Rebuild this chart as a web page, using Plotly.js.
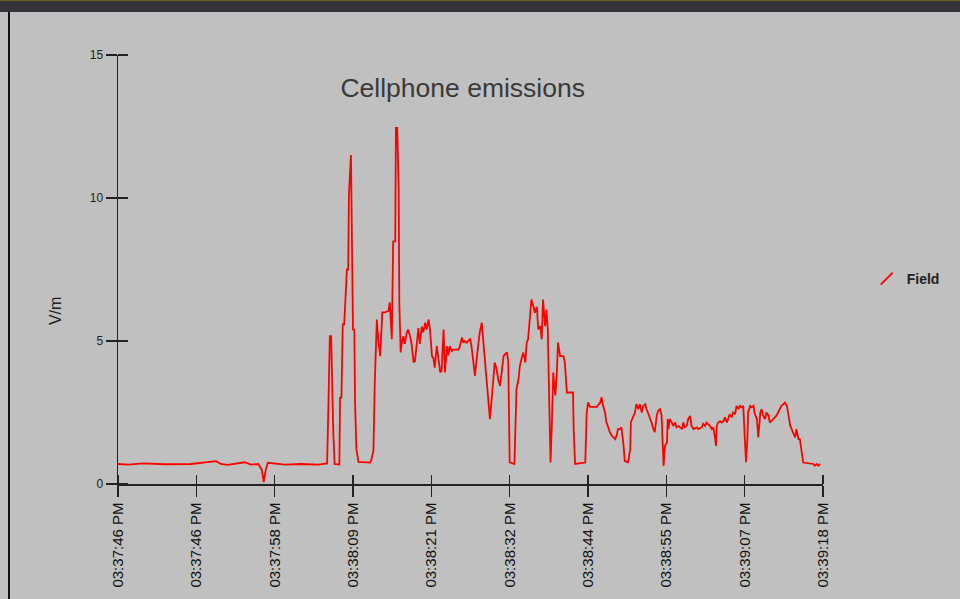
<!DOCTYPE html>
<html>
<head>
<meta charset="utf-8">
<script src="https://cdn.plot.ly/plotly-3.0.1.min.js"></script>
<style>
  html, body { margin: 0; padding: 0; background: #c0c0c0; width: 960px; height: 599px; overflow: hidden; }
  #chart { position: absolute; left: 0; top: 0; width: 960px; height: 599px; }
  #topbar { position: absolute; left: 0; top: 0; width: 960px; height: 11px; background: #343338; border-top: 1px solid #6b5a1a; z-index: 5; }
  #leftbar { position: absolute; left: 8px; top: 12px; width: 2px; height: 587px; background: #111; z-index: 5; }
</style>
</head>
<body>
<div id="topbar"></div>
<div id="leftbar"></div>
<div id="chart"></div>
<script>
// Elapsed time (s) since the first sample and field strength (V/m)
const timeSec = [
  0.0, 1.5, 3.7, 6.9, 10.7, 14.4, 15.1, 16.1, 18.6, 19.5, 20.6, 21.1, 21.4, 21.7, 22.0, 24.5, 26.9, 29.4, 30.7,
  30.8, 30.9, 31.1, 31.3, 31.4, 31.5, 31.6, 31.8, 32.5, 32.6, 32.8, 33.0, 33.2, 33.3, 33.6, 33.8, 33.9, 34.2,
  34.3, 34.5, 34.7, 34.8, 35.0, 35.3, 37.0, 37.2, 37.5, 37.7, 38.0, 38.2, 38.5, 38.6, 38.8, 39.2, 39.7, 39.9,
  40.2, 40.4, 40.7, 40.8, 41.0, 41.2, 41.3, 41.5, 41.7, 41.9, 42.1, 42.4, 42.6, 42.9, 43.1, 43.4, 43.6, 43.9,
  44.1, 44.3, 44.6, 44.8, 45.1, 45.3, 45.6, 45.8, 46.1, 46.3, 46.5, 46.8, 47.0, 47.3, 47.5, 47.8, 48.0, 48.3,
  48.5, 48.7, 49.0, 49.2, 50.0, 50.2, 50.5, 50.7, 50.9, 51.2, 51.4, 51.7, 51.9, 52.2, 52.4, 52.7, 52.9, 53.1,
  53.4, 53.6, 53.9, 54.1, 54.4, 54.6, 54.9, 55.1, 55.3, 55.6, 55.8, 56.1, 56.3, 56.6, 56.8, 57.1, 57.3, 57.4,
  57.5, 58.2, 58.3, 58.5, 58.8, 59.0, 59.3, 59.5, 59.8, 60.0, 60.2, 60.5, 60.7, 61.0, 61.2, 61.5, 61.7, 62.0,
  62.2, 62.4, 62.7, 62.9, 63.1, 63.3, 63.5, 63.7, 63.9, 64.2, 64.4, 64.6, 64.9, 65.4, 65.6, 65.9, 66.8, 66.9,
  67.1, 68.6, 68.7, 68.8, 69.0, 69.3, 70.3, 70.8, 71.0, 71.2, 71.5, 71.7, 72.0, 72.2, 72.5, 73.0, 73.2, 73.4,
  73.7, 73.9, 74.2, 74.4, 74.9, 75.2, 75.3, 75.7, 75.9, 76.1, 76.4, 76.6, 76.9, 77.1, 77.4, 77.6, 77.9, 78.1,
  78.4, 78.6, 78.8, 79.1, 79.3, 79.6, 79.8, 80.1, 80.3, 80.6, 80.7, 80.8, 81.0, 81.3, 81.5, 81.8, 82.0, 82.3,
  82.5, 82.8, 83.0, 83.2, 83.5, 83.7, 84.0, 84.2, 84.5, 85.0, 85.2, 85.7, 85.9, 86.2, 86.4, 86.9, 87.2, 87.4,
  87.6, 87.8, 87.9, 88.1, 88.4, 88.6, 88.9, 89.1, 89.4, 89.6, 89.8, 90.1, 90.3, 90.6, 90.8, 91.1, 91.3, 91.6,
  91.8, 92.0, 92.2, 92.4, 92.5, 92.8, 93.0, 93.3, 93.5, 93.8, 94.0, 94.3, 94.5, 94.7, 95.0, 95.2, 95.5, 95.7,
  96.2, 96.5, 96.7, 96.9, 97.2, 97.4, 97.7, 97.9, 98.2, 98.4, 98.7, 98.9, 99.1, 99.4, 99.6, 99.9, 100.1, 100.4,
  100.6, 102.1, 102.3, 102.6, 102.8, 103.1
];
const fieldVm = [
  0.70, 0.68, 0.72, 0.69, 0.70, 0.80, 0.70, 0.67, 0.76, 0.68, 0.70, 0.50, 0.07, 0.50, 0.74, 0.68, 0.70, 0.68, 0.72,
  2.85, 2.85, 5.17, 5.17, 4.00, 1.85, 1.85, 0.70, 0.68, 3.03, 3.00, 5.58, 5.58, 6.00, 7.50, 7.50, 10.10, 11.50,
  9.07, 5.40, 5.40, 2.86, 1.22, 0.77, 0.75, 0.85, 1.16, 3.56, 5.75, 5.06, 4.47, 5.00, 6.00, 6.00, 6.05, 6.35,
  5.06, 8.48, 8.48, 12.45, 12.45, 10.36, 6.35, 4.60, 5.00, 5.17, 4.90, 5.30, 5.40, 5.15, 4.90, 4.25, 4.30, 5.00,
  5.45, 4.90, 5.50, 5.30, 5.64, 5.40, 5.75, 5.40, 4.47, 4.40, 4.07, 4.82, 4.40, 3.90, 3.95, 5.40, 3.90, 4.82,
  4.50, 4.82, 4.65, 4.70, 4.70, 4.82, 5.12, 4.94, 5.00, 4.94, 5.00, 5.06, 4.82, 4.13, 3.78, 4.47, 4.88, 5.29,
  5.64, 5.06, 4.36, 3.90, 2.85, 2.27, 3.08, 3.78, 4.25, 4.00, 3.67, 3.43, 3.90, 4.47, 4.53, 4.60, 4.25, 2.73,
  0.76, 0.70, 1.68, 3.31, 3.67, 4.13, 4.43, 4.60, 4.25, 4.95, 5.06, 5.75, 6.45, 6.20, 5.99, 6.20, 5.40, 5.52,
  5.06, 6.45, 5.52, 6.10, 5.40, 2.96, 0.75, 2.16, 3.90, 3.10, 3.78, 4.95, 4.47, 4.47, 4.25, 3.20, 3.20, 1.90,
  0.70, 0.75, 1.50, 2.45, 2.85, 2.70, 2.70, 2.85, 3.03, 2.75, 2.50, 2.16, 1.97, 1.81, 1.69, 1.57, 1.69, 1.92,
  1.92, 1.98, 1.40, 0.80, 0.76, 1.22, 2.16, 2.40, 2.50, 2.79, 2.62, 2.79, 2.50, 2.73, 2.79, 2.62, 2.44, 2.27,
  2.10, 1.92, 1.81, 2.40, 2.56, 2.62, 2.40, 0.63, 1.33, 1.45, 2.27, 1.92, 2.27, 2.15, 2.03, 2.15, 1.98, 2.03,
  1.98, 1.92, 2.15, 1.98, 2.03, 2.27, 2.38, 2.03, 1.92, 1.98, 1.92, 1.98, 2.10, 2.03, 2.15, 2.03, 1.92, 1.98,
  1.68, 1.33, 2.03, 2.15, 2.20, 2.15, 2.20, 2.33, 2.15, 2.33, 2.44, 2.33, 2.50, 2.44, 2.73, 2.62, 2.73, 2.68,
  2.73, 1.69, 0.76, 1.57, 2.50, 2.73, 2.68, 2.73, 2.44, 2.27, 1.63, 2.50, 2.62, 2.40, 2.27, 2.50, 2.40, 2.15,
  2.27, 2.33, 2.40, 2.50, 2.62, 2.73, 2.79, 2.85, 2.73, 2.40, 2.03, 1.92, 1.81, 1.63, 1.92, 1.57, 1.57, 1.16,
  0.75, 0.70, 0.64, 0.70, 0.64, 0.70
];
const tickSec = [0, 11.5, 23, 34.5, 46, 57.5, 69, 80.5, 92, 103.5];
const tickLabels = ["03:37:46 PM", "03:37:46 PM", "03:37:58 PM", "03:38:09 PM", "03:38:21 PM",
                    "03:38:32 PM", "03:38:44 PM", "03:38:55 PM", "03:39:07 PM", "03:39:18 PM"];
const yTicks = [0, 5, 10, 15];
const seriesName = "Field";

const axisColor = "#222222";
const font = "Liberation Sans, Arial, sans-serif";

const traces = [
  {
    x: timeSec, y: fieldVm, type: "scatter", mode: "lines",
    line: { color: "#ff0000", width: 1.8 },
    showlegend: false, hoverinfo: "x+y"
  },
  {
    x: [null], y: [null], type: "scatter", mode: "markers", name: seriesName,
    marker: { symbol: "line-ne", size: 12, color: "#ff0000", line: { color: "#ff0000", width: 1.8 } },
    showlegend: true
  }
];

const layout = {
  width: 960, height: 599,
  margin: { l: 118, r: 137, t: 55, b: 115 },
  paper_bgcolor: "rgba(0,0,0,0)",
  plot_bgcolor: "rgba(0,0,0,0)",
  font: { family: font, color: "#222" },
  title: {
    text: "Cellphone emissions",
    font: { family: font, size: 26.5, color: "#3a3a3a" },
    xref: "paper", x: 0.489, xanchor: "center",
    yref: "container", y: 0.853, yanchor: "middle"
  },
  xaxis: {
    range: [0, 103.5], tickmode: "array", tickvals: tickSec, ticktext: tickLabels,
    tickangle: -90, ticks: "outside", ticklen: 11, tickwidth: 1.5, tickcolor: axisColor,
    minor: { ticks: "inside", tickmode: "linear", tick0: 0.001, dtick: 11.5, ticklen: 9,
             tickwidth: 1.5, tickcolor: axisColor, showgrid: false },
    showline: true, linecolor: axisColor, linewidth: 1.5, showgrid: false, zeroline: false,
    tickfont: { family: font, size: 15, color: "#111" }, fixedrange: true
  },
  yaxis: {
    range: [0, 15], tickmode: "array", tickvals: yTicks,
    ticks: "outside", ticklen: 11, tickwidth: 1.5, tickcolor: axisColor,
    minor: { ticks: "inside", tickmode: "linear", tick0: 0.0001, dtick: 5, ticklen: 10,
             tickwidth: 1.5, tickcolor: axisColor, showgrid: false },
    showline: true, linecolor: axisColor, linewidth: 1.5, showgrid: false, zeroline: false,
    tickfont: { family: font, size: 12, color: "#222" }, fixedrange: true
  },
  legend: {
    x: 1.062, xanchor: "left", y: 0.478, yanchor: "middle",
    bgcolor: "rgba(0,0,0,0)", borderwidth: 0,
    font: { family: font, size: 14, color: "#222", weight: "bold" }
  },
  annotations: [
    {
      text: "V/m", xref: "paper", yref: "paper", x: -0.0894, y: 0.403,
      xanchor: "center", yanchor: "middle", textangle: -90, showarrow: false,
      font: { family: font, size: 16, color: "#222" }
    }
  ]
};

Plotly.newPlot("chart", traces, layout, { displayModeBar: false, staticPlot: true });
</script>
</body>
</html>
